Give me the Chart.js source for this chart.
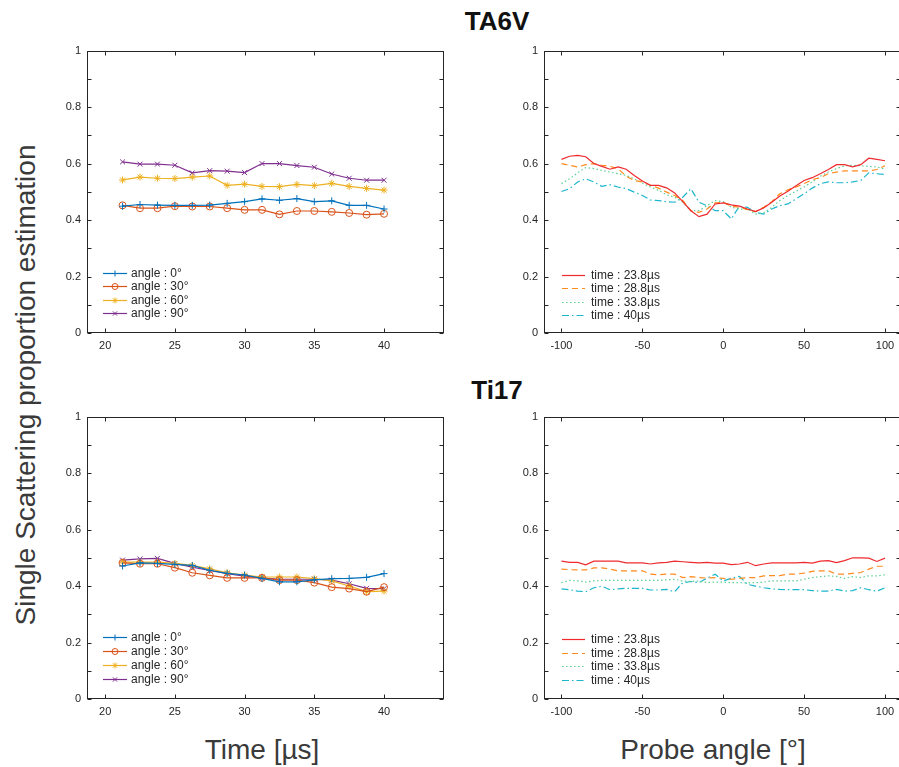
<!DOCTYPE html>
<html><head><meta charset="utf-8">
<script src="https://cdn.jsdelivr.net/npm/chart.js@4/dist/chart.umd.min.js"></script>
<style>
html,body{margin:0;padding:0;background:#fff;overflow:hidden;width:899px;height:767px;}
body{position:relative;font-family:"Liberation Sans",Arial,sans-serif;}
canvas{position:absolute;}
.t{position:absolute;white-space:nowrap;color:#262626;transform:translate(-50%,-50%);}
</style></head><body>
<div class="t" style="left:497px;top:21px;font-weight:bold;font-size:26px;color:#111;">TA6V</div>
<div class="t" style="left:497px;top:390px;font-weight:bold;font-size:26px;color:#111;">Ti17</div>
<div class="t" style="left:26px;top:385px;font-size:28px;color:#3a3a3a;transform:translate(-50%,-50%) rotate(-90deg);">Single Scattering proportion estimation</div>
<div class="t" style="left:262px;top:750px;font-size:28px;color:#3a3a3a;">Time [µs]</div>
<div class="t" style="left:713px;top:750px;font-size:28px;color:#3a3a3a;">Probe angle [°]</div>
<canvas id="c1"></canvas><canvas id="c2"></canvas><canvas id="c3"></canvas><canvas id="c4"></canvas>
<script>
// ---------- DATA ----------
const times = [21.25, 22.5, 23.75, 25, 26.25, 27.5, 28.75, 30, 31.25, 32.5, 33.75, 35, 36.25, 37.5, 38.75, 40];
const angleLabels = ['angle : 0°', 'angle : 30°', 'angle : 60°', 'angle : 90°'];
const timeLabels = ['time : 23.8µs', 'time : 28.8µs', 'time : 33.8µs', 'time : 40µs'];
const timeTicks = [20, 25, 30, 35, 40];
const probeTicks = [-100, -50, 0, 50, 100];
const yTicks = [0, 0.1, 0.2, 0.3, 0.4, 0.5, 0.6, 0.7, 0.8, 0.9, 1];
const yTickLabels = ['0', '', '0.2', '', '0.4', '', '0.6', '', '0.8', '', '1'];

// TA6V vs time
const ta6v_a0  = [0.449, 0.455, 0.453, 0.452, 0.452, 0.453, 0.459, 0.465, 0.475, 0.470, 0.476, 0.465, 0.468, 0.452, 0.452, 0.439];
const ta6v_a30 = [0.452, 0.442, 0.442, 0.449, 0.448, 0.448, 0.442, 0.436, 0.436, 0.420, 0.432, 0.432, 0.429, 0.425, 0.419, 0.422];
const ta6v_a60 = [0.542, 0.552, 0.548, 0.547, 0.552, 0.556, 0.523, 0.527, 0.519, 0.518, 0.526, 0.522, 0.530, 0.519, 0.512, 0.506];
const ta6v_a90 = [0.606, 0.598, 0.598, 0.594, 0.567, 0.575, 0.573, 0.568, 0.600, 0.600, 0.593, 0.587, 0.563, 0.548, 0.541, 0.541];

// Ti17 vs time
const ti17_a0  = [0.471, 0.482, 0.480, 0.477, 0.473, 0.456, 0.445, 0.439, 0.427, 0.415, 0.415, 0.422, 0.426, 0.427, 0.431, 0.444];
const ti17_a30 = [0.482, 0.479, 0.479, 0.465, 0.447, 0.438, 0.429, 0.429, 0.429, 0.421, 0.421, 0.412, 0.396, 0.391, 0.380, 0.396];
const ti17_a60 = [0.485, 0.485, 0.485, 0.480, 0.473, 0.461, 0.447, 0.439, 0.432, 0.432, 0.432, 0.426, 0.418, 0.400, 0.380, 0.382];
const ti17_a90 = [0.492, 0.496, 0.498, 0.480, 0.467, 0.455, 0.444, 0.435, 0.429, 0.424, 0.424, 0.424, 0.421, 0.408, 0.392, 0.391];

// probe angles
const angles = [-100, -95, -90, -85, -80, -75, -70, -65, -60, -55, -50, -45, -40, -35, -30, -25, -20, -15, -10, -5, 0,
                5, 10, 15, 20, 25, 30, 35, 40, 45, 50, 55, 60, 65, 70, 75, 80, 85, 90, 95, 100];

// TA6V vs probe angle
const ta6v_t238 = [0.615, 0.626, 0.629, 0.624, 0.600, 0.590, 0.580, 0.588, 0.580, 0.558, 0.538, 0.523, 0.523, 0.514, 0.496, 0.465, 0.433, 0.412, 0.421, 0.457, 0.461,
                   0.454, 0.449, 0.439, 0.430, 0.443, 0.463, 0.485, 0.502, 0.521, 0.540, 0.550, 0.564, 0.579, 0.596, 0.596, 0.588, 0.596, 0.619, 0.615, 0.610];
const ta6v_t288 = [0.600, 0.594, 0.588, 0.596, 0.600, 0.594, 0.590, 0.582, 0.555, 0.540, 0.535, 0.523, 0.513, 0.499, 0.487, 0.469, 0.433, 0.427, 0.439, 0.461, 0.463,
                   0.449, 0.445, 0.437, 0.430, 0.445, 0.465, 0.493, 0.507, 0.517, 0.529, 0.543, 0.550, 0.564, 0.570, 0.574, 0.574, 0.574, 0.574, 0.579, 0.592];
const ta6v_t338 = [0.529, 0.546, 0.567, 0.586, 0.582, 0.576, 0.570, 0.564, 0.558, 0.546, 0.531, 0.517, 0.505, 0.489, 0.481, 0.463, 0.433, 0.433, 0.451, 0.469, 0.465,
                   0.445, 0.439, 0.439, 0.421, 0.425, 0.445, 0.469, 0.487, 0.502, 0.517, 0.535, 0.555, 0.570, 0.582, 0.592, 0.594, 0.592, 0.590, 0.588, 0.580];
const ta6v_t40  = [0.501, 0.511, 0.535, 0.546, 0.535, 0.519, 0.525, 0.517, 0.511, 0.499, 0.487, 0.471, 0.469, 0.465, 0.463, 0.481, 0.511, 0.463, 0.451, 0.433, 0.433,
                   0.404, 0.449, 0.445, 0.427, 0.421, 0.439, 0.451, 0.457, 0.475, 0.493, 0.513, 0.529, 0.535, 0.532, 0.532, 0.535, 0.540, 0.567, 0.564, 0.561];

// Ti17 vs probe angle
const ti17_t238 = [0.488, 0.484, 0.484, 0.475, 0.488, 0.488, 0.488, 0.488, 0.482, 0.482, 0.482, 0.478, 0.482, 0.484, 0.488, 0.486, 0.484, 0.482, 0.484, 0.481, 0.481,
                   0.476, 0.478, 0.484, 0.472, 0.478, 0.482, 0.482, 0.482, 0.482, 0.484, 0.481, 0.488, 0.490, 0.483, 0.490, 0.500, 0.500, 0.499, 0.487, 0.499];
const ti17_t288 = [0.460, 0.458, 0.457, 0.457, 0.464, 0.464, 0.460, 0.454, 0.454, 0.454, 0.454, 0.442, 0.440, 0.442, 0.442, 0.430, 0.433, 0.430, 0.428, 0.430, 0.427,
                   0.424, 0.427, 0.430, 0.430, 0.436, 0.437, 0.437, 0.442, 0.442, 0.446, 0.452, 0.454, 0.454, 0.442, 0.442, 0.445, 0.448, 0.460, 0.470, 0.470];
const ti17_t338 = [0.412, 0.420, 0.418, 0.414, 0.418, 0.420, 0.420, 0.420, 0.420, 0.420, 0.420, 0.420, 0.420, 0.422, 0.424, 0.418, 0.416, 0.418, 0.412, 0.414, 0.414,
                   0.412, 0.412, 0.411, 0.412, 0.414, 0.418, 0.418, 0.418, 0.418, 0.424, 0.430, 0.433, 0.436, 0.434, 0.427, 0.433, 0.430, 0.436, 0.436, 0.440];
const ti17_t40  = [0.390, 0.387, 0.382, 0.380, 0.394, 0.399, 0.387, 0.390, 0.392, 0.392, 0.392, 0.386, 0.386, 0.388, 0.380, 0.412, 0.416, 0.412, 0.428, 0.442, 0.418,
                   0.428, 0.434, 0.406, 0.400, 0.394, 0.390, 0.388, 0.387, 0.387, 0.387, 0.384, 0.382, 0.382, 0.388, 0.382, 0.384, 0.394, 0.387, 0.382, 0.394];

// ---------- STYLE ----------
const FONT = '"Liberation Sans", Arial, sans-serif';
const TXT = '#262626';
const mColors = ['#0072BD', '#D95319', '#EDB120', '#7E2F8E'];
const mStyles = ['cross', 'circle', 'star', 'crossRot'];
const tColors = ['#ee2a2e', '#ff8a1e', '#5ccf95', '#1cb6cc'];
const tDashes = [[], [6, 4], [1.5, 2.5], [7, 3, 1.5, 3]];

function pts(xs, ys) { return xs.map((x, i) => ({x: x, y: ys[i]})); }

function markerSets(series) {
  return series.map((s, i) => ({
    label: angleLabels[i], data: pts(times, s),
    borderColor: mColors[i], borderWidth: 1.2,
    pointStyle: mStyles[i], pointRadius: 3.5, pointBorderWidth: 1,
    pointBorderColor: mColors[i], pointBackgroundColor: i === 2 ? mColors[i] : 'rgba(0,0,0,0)'
  }));
}
function lineSets(series) {
  return series.map((s, i) => ({
    label: timeLabels[i], data: pts(angles, s),
    borderColor: tColors[i], borderWidth: 1.2, borderDash: tDashes[i], pointRadius: 0
  }));
}

const framePlugin = {
  id: 'frame',
  afterDraw(chart, args, o) {
    const {ctx, chartArea: a, scales: {x, y}} = chart;
    ctx.save();
    ctx.strokeStyle = TXT; ctx.lineWidth = 1; ctx.setLineDash([]);
    const L = Math.round(a.left) + 0.5, R = Math.round(a.right) - 0.5, T = Math.round(a.top) + 0.5, B = Math.round(a.bottom) - 0.5;
    ctx.strokeRect(L, T, R - L, B - T);
    const tl = 4;
    ctx.beginPath();
    x.ticks.forEach(t => { const p = Math.round(x.getPixelForValue(t.value)) + 0.5;
      ctx.moveTo(p, B); ctx.lineTo(p, B - tl); ctx.moveTo(p, T); ctx.lineTo(p, T + tl); });
    y.ticks.forEach(t => { const p = Math.round(y.getPixelForValue(t.value)) + 0.5;
      ctx.moveTo(L, p); ctx.lineTo(L + tl, p); ctx.moveTo(R, p); ctx.lineTo(R - tl, p); });
    ctx.stroke();
    // legend
    ctx.font = '12px ' + FONT; ctx.fillStyle = TXT; ctx.textBaseline = 'middle';
    chart.data.datasets.forEach((d, i) => {
      const yy = Math.round(a.bottom + o.y0 + i * o.dy) + 0.5;
      const x0 = a.left + o.x0, x1 = x0 + o.len;
      ctx.strokeStyle = d.borderColor; ctx.lineWidth = 1.2; ctx.setLineDash(d.borderDash || []);
      ctx.beginPath(); ctx.moveTo(x0, yy); ctx.lineTo(x1, yy); ctx.stroke();
      ctx.setLineDash([]);
      if (d.pointRadius > 0) {
        ctx.strokeStyle = d.pointBorderColor; ctx.fillStyle = d.pointBackgroundColor; ctx.lineWidth = 1;
        Chart.helpers.drawPoint(ctx, {pointStyle: d.pointStyle, radius: 3, rotation: 0, borderWidth: 1}, (x0 + x1) / 2, yy);
      }
      ctx.fillStyle = TXT;
      ctx.fillText(d.label, x1 + o.gap, yy);
    });
    ctx.restore();
  }
};

function makeChart(id, box, xr, xt, datasets, leg) {
  const cv = document.getElementById(id);
  const PL = 40, PT = 12, PR = 8, PB = 30;
  cv.width = box.w + PL + PR; cv.height = box.h + PT + PB;
  cv.style.left = (box.l - PL) + 'px'; cv.style.top = (box.t - PT) + 'px';
  cv.style.width = cv.width + 'px'; cv.style.height = cv.height + 'px';
  return new Chart(cv, {
    type: 'line',
    data: {datasets: datasets},
    options: {
      responsive: false, animation: false, devicePixelRatio: 1,
      layout: {padding: {top: PT, right: PR, left: 0, bottom: 0}},
      plugins: {legend: {display: false}, tooltip: {enabled: false}, frame: leg},
      scales: {
        x: {type: 'linear', min: xr[0], max: xr[1],
            afterBuildTicks: s => { s.ticks = xt.map(v => ({value: v})); },
            afterFit: s => { s.height = PB; },
            grid: {display: false, drawTicks: false}, border: {display: false},
            ticks: {color: TXT, font: {size: 11, family: FONT}, padding: 6, maxRotation: 0, autoSkip: false}},
        y: {type: 'linear', min: 0, max: 1,
            afterBuildTicks: s => { s.ticks = yTicks.map(v => ({value: v})); },
            afterFit: s => { s.width = PL; },
            grid: {display: false, drawTicks: false}, border: {display: false},
            ticks: {color: TXT, font: {size: 11, family: FONT}, padding: 6, autoSkip: false,
                    callback: (v, i) => yTickLabels[i]}}
      }
    },
    plugins: [framePlugin]
  });
}

const timeRange = [18.7, 44.3];
const probeRange = [-110.8, 109.9];
makeChart('c1', {l: 87, t: 50, w: 357, h: 283}, timeRange, timeTicks,
  markerSets([ta6v_a0, ta6v_a30, ta6v_a60, ta6v_a90]), {x0: 16, len: 24, gap: 4, y0: -60, dy: 13.4});
makeChart('c2', {l: 544, t: 50, w: 357, h: 283}, probeRange, probeTicks,
  lineSets([ta6v_t238, ta6v_t288, ta6v_t338, ta6v_t40]), {x0: 18, len: 23, gap: 6, y0: -58, dy: 13.4});
makeChart('c3', {l: 87, t: 416, w: 357, h: 283}, timeRange, timeTicks,
  markerSets([ti17_a0, ti17_a30, ti17_a60, ti17_a90]), {x0: 16, len: 24, gap: 4, y0: -62, dy: 14});
makeChart('c4', {l: 544, t: 416, w: 357, h: 283}, probeRange, probeTicks,
  lineSets([ti17_t238, ti17_t288, ti17_t338, ti17_t40]), {x0: 18, len: 23, gap: 6, y0: -60, dy: 13.6});
</script>
</body></html>
